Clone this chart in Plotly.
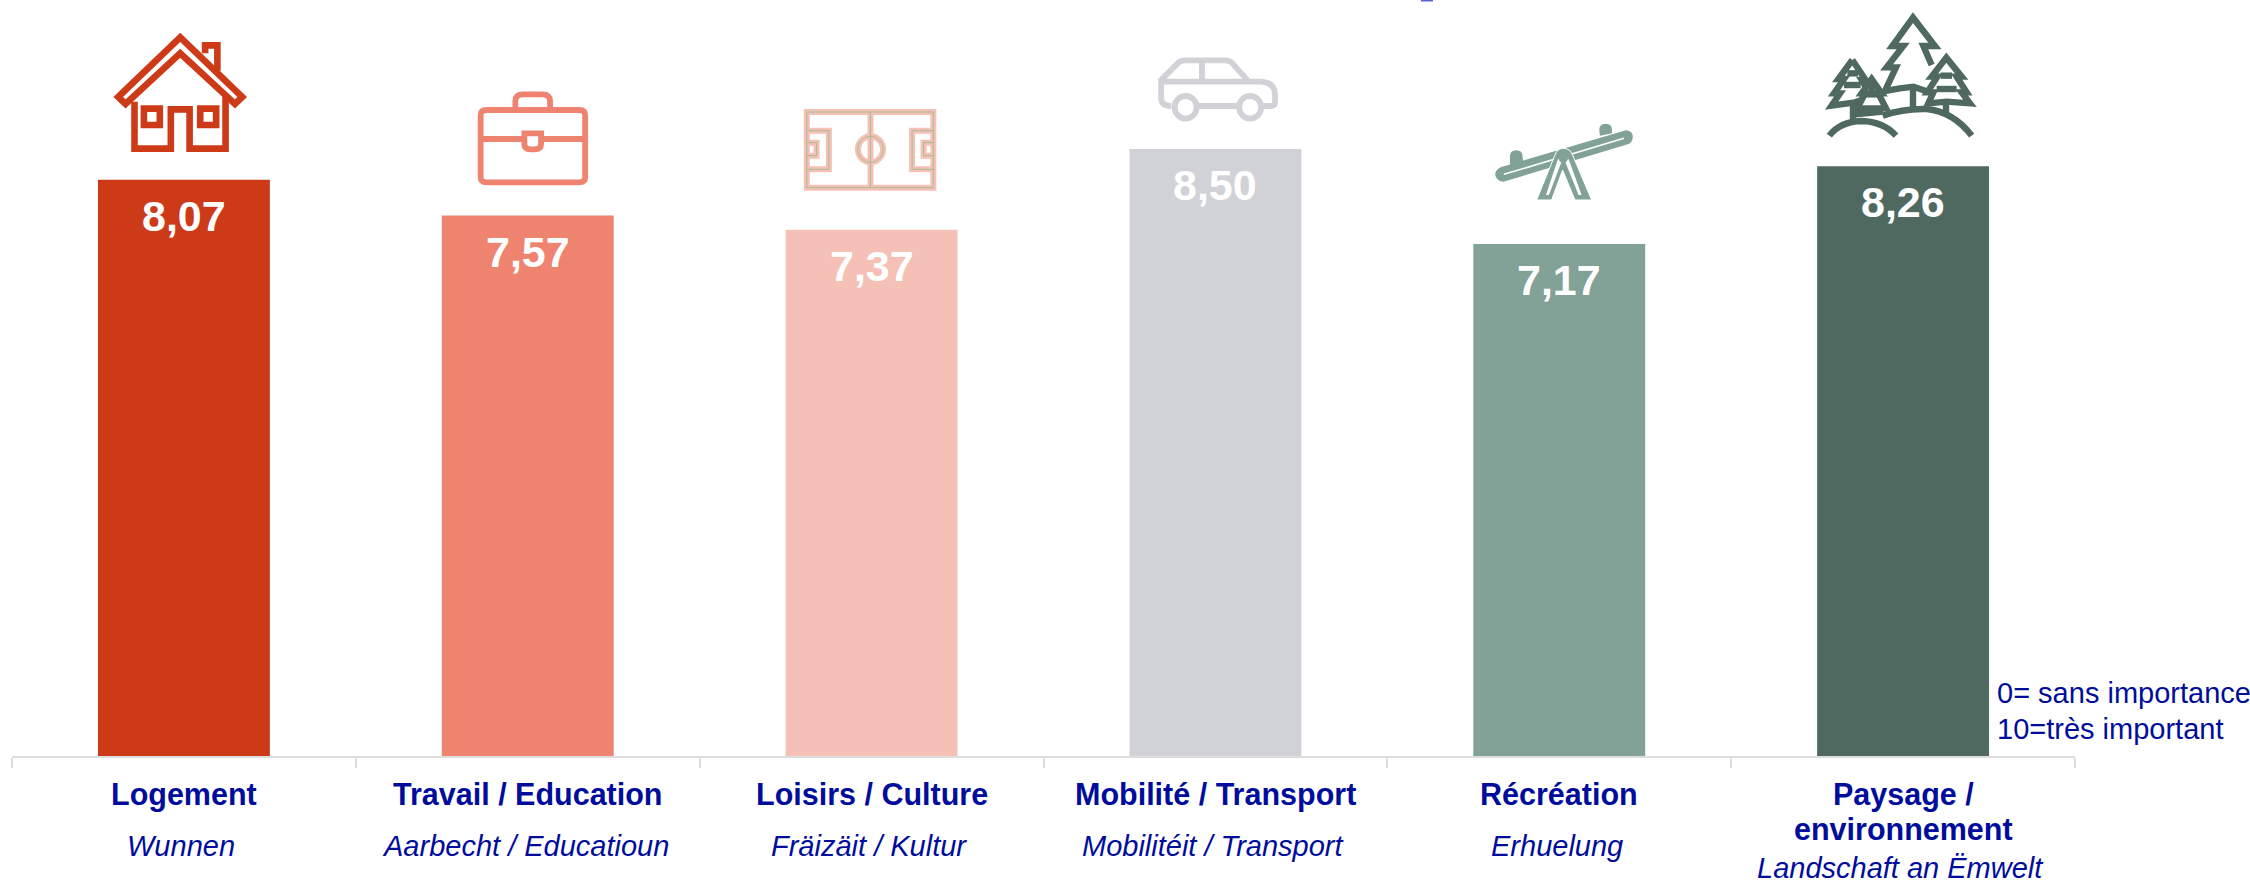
import re
import plotly.graph_objects as go

# ---- data ----
categories_fr = ["Logement", "Travail / Education", "Loisirs / Culture",
                 "Mobilité / Transport", "Récréation", "Paysage /<br>environnement"]
categories_lb = ["Wunnen", "Aarbecht / Educatioun", "Fräizäit / Kultur",
                 "Mobilitéit / Transport", "Erhuelung", "Landschaft an Ëmwelt"]
values = [8.07, 7.57, 7.37, 8.50, 7.17, 8.26]
value_labels = ["8,07", "7,57", "7,37", "8,50", "7,17", "8,26"]
colors = ["#CD3A18", "#EE836F", "#F5C1B7", "#D1D2D8", "#82A298", "#4F6961"]
note_lines = ["0= sans importance", "10=très important"]

NAVY = "#000D9C"
W, H = 2250, 886
L, R, B = 12.2, 2075.0, 756.0
FONT = "Liberation Sans"


def px(x):
    return (x - L) / (R - L)


def py(y):
    return 1 - y / B


def path(d, ox, oy, sx, sy):
    """Icon outline given in crop coordinates -> paper coordinates."""
    nums = iter(range(100000))

    def rep(m):
        v = float(m.group(0))
        if next(nums) % 2 == 0:
            return f"{px(ox + v / sx):.5f}"
        return f"{py(oy + v / sy):.5f}"

    return re.sub(r"-?\d+(\.\d+)?", rep, d)


def shp(d, frame, color=None, width=5.0, fill=None):
    return dict(type="path", path=path(d, *frame), xref="paper", yref="paper",
                line=dict(color=color or "rgba(0,0,0,0)", width=width if color else 0),
                fillcolor=fill or "rgba(0,0,0,0)", layer="above")


def ellipse(cx, cy, rx, ry):
    k = 0.5523
    return (f"M{cx - rx},{cy} C{cx - rx},{cy - k * ry} {cx - k * rx},{cy - ry} {cx},{cy - ry} "
            f"C{cx + k * rx},{cy - ry} {cx + rx},{cy - k * ry} {cx + rx},{cy} "
            f"C{cx + rx},{cy + k * ry} {cx + k * rx},{cy + ry} {cx},{cy + ry} "
            f"C{cx - k * rx},{cy + ry} {cx - rx},{cy + k * ry} {cx - rx},{cy} Z")


shapes = []
# house
f = (60, 0, 2.45, 3)
c = colors[0]
for d in ["M143,291 L295,112 L447,291 L429,312 L295,160 L161,312 Z",
          "M356,160 L356,136 L386,136 L386,212",
          "M183,305 L183,446 L272,446 L272,328 L318,328 L318,446 L406,446 L406,290",
          "M206,326 L245,326 L245,375 L206,375 Z",
          "M344,326 L383,326 L383,375 L344,375 Z"]:
    shapes.append(shp(d, f, c, 6.6))
# briefcase
c = colors[1]
for d in ["M1046,330 L1272,330 Q1287,330 1287,345 L1287,532 Q1287,547 1272,547 L1046,547 Q1031,547 1031,532 L1031,345 Q1031,330 1046,330 Z",
          "M1116,324 L1116,303 Q1116,283 1135,283 L1182,283 Q1201,283 1201,303 L1201,324",
          "M1031,417 L1138,417", "M1179,417 L1287,417",
          "M1138,400 L1179,400 L1179,432 Q1179,448 1163,448 L1154,448 Q1138,448 1138,432 Z"]:
    shapes.append(shp(d, f, c, 5.8))
# football pitch
f = (700, 0, 2.45, 3)
c = colors[2]
pitch = ["M262,336 L572,336 L572,563 L262,563 Z", "M418,336 L418,563",
         "M262,392 L316,392 L316,508 L262,508", "M262,428 L286,428 L286,467 L262,467",
         "M572,392 L520,392 L520,508 L572,508", "M572,428 L548,428 L548,467 L572,467",
         ellipse(418, 448, 31, 39)]
for d in pitch:
    shapes.append(shp(d, f, c, 6.0))
for d in pitch:
    shapes.append(shp(d, f, "#A8BC95", 1.0))
# car
c = colors[3]
for d in ["M1155,318 Q1130,318 1130,293 L1130,240 L1172,188 Q1178,181 1190,181 L1285,181 Q1297,181 1303,188 L1345,245 L1375,245 Q1409,248 1409,285 L1409,306 Q1409,318 1398,318 L1380,318",
          "M1130,245 L1345,245", "M1230,181 L1230,245", "M1222,318 L1316,318",
          ellipse(1190, 322, 27, 34), ellipse(1348, 322, 27, 34)]:
    shapes.append(shp(d, f, c, 5.8))
# seesaw
f = (1480, 115, 3, 3)
c = colors[4]
shapes.append(shp("M90,150 L90,125 Q90,106 109,106 Q128,106 128,125 L130,142 Z", f, fill=c))
shapes.append(shp("M360,62 L358,45 Q358,26 377,26 Q396,26 396,45 L396,55 Z", f, fill=c))
shapes.append(shp("M65,158 L438,48 Q458,50 456,68 Q455,80 445,85 L70,198 Q50,195 48,178 Q50,163 65,158 Z", f, c, 1.5, fill=c))
shapes.append(shp("M72,178 L432,70", f, "#FFFFFF", 1.6))
shapes.append(shp("M170,255 L225,120 Q232,100 250,100 Q270,100 278,120 L335,255 L285,255 L248,165 L215,255 Z",
                  f, "#FFFFFF", 1.0, fill=c))
shapes.append(shp("M198,240 L233,135 Q250,108 267,135 L305,240 L296,240 L250,126 L207,240 Z", f, fill="#FFFFFF"))
shapes.append(shp(ellipse(250, 130, 14, 14), f, fill=c))
# trees
f = (1820, 5, 3, 3)
c = colors[5]
tree_parts = [
    ("M335,180 L310,123 L345,123 L279,38 L217,123 L250,123 L200,187 L228,187 L195,258 L240,250 L280,245 L318,258", None),
    ("M279,245 L279,310", None),
    ("M97,165 L55,222 L72,222 L42,265 L60,265 L35,302 L105,292 L125,285", None),
    ("M97,165 L137,225 L125,225 L140,250", None),
    ("M82,205 L114,205", None),
    ("M72,240 L122,240", None),
    ("M99,295 L99,345", None),
    ("M105,328 L190,320", None),
    ("M379,158 L335,215 L352,215 L322,262 L340,262 L325,295 L380,290 L450,295 L425,262 L440,262 L410,215 L425,215 Z", "#FFFFFF"),
    ("M362,212 L396,212", None),
    ("M350,252 L410,252", None),
    ("M378,295 L378,325", None),
    ("M155,222 L185,265 L175,265 L198,310 L112,310 L135,265 L125,265 Z", "#FFFFFF"),
    ("M135,268 L175,268", None),
    ("M155,235 L155,262", None),
    ("M155,312 L155,330", None),
    ("M28,392 Q60,350 125,348 Q190,350 228,392", None),
    ("M188,332 Q250,310 320,312 Q400,320 455,392", None),
]
for d, fill in tree_parts:
    shapes.append(shp(d, f, c, 6.4, fill=fill))
# cropped descender of the title at the very top edge
shapes.append(dict(type="rect", xref="paper", yref="paper", x0=px(1421), x1=px(1433),
                   y0=py(0), y1=py(1.5), fillcolor="#5A5FD0", line_width=0, layer="above"))

annotations = []
# values in bars
for i, (v, t) in enumerate(zip(values, value_labels)):
    annotations.append(dict(x=i, y=v, xref="x", yref="y", text=f"<b>{t}</b>", showarrow=False,
                            yanchor="top", xanchor="center", yshift=-10,
                            font=dict(family=FONT, size=43, color="#FFFFFF")))
# two-language category labels
for i, (fr, lb) in enumerate(zip(categories_fr, categories_lb)):
    two_lines = "<br>" in fr
    for j, line in enumerate(fr.split("<br>")):
        annotations.append(dict(x=i, y=py(794 + 35 * j), xref="x", yref="paper",
                                text=f"<b>{line}</b>", showarrow=False, yanchor="middle",
                                font=dict(family=FONT, size=30.5, color=NAVY)))
    annotations.append(dict(x=i - 0.008, y=py(868 if two_lines else 846), xref="x", yref="paper",
                            text=f"<i>{lb}</i>", showarrow=False, yanchor="middle",
                            font=dict(family=FONT, size=29, color=NAVY)))
# scale note
for line, y in zip(note_lines, [693, 729]):
    annotations.append(dict(x=px(1995), y=py(y), xref="paper", yref="paper", text=line,
                            showarrow=False, xanchor="left", yanchor="middle",
                            font=dict(family=FONT, size=29, color=NAVY)))

fig = go.Figure(go.Bar(x=list(range(6)), y=values, width=0.5, marker=dict(color=colors, line_width=0),
                       hoverinfo="skip"))
fig.update_layout(
    width=W, height=H, margin=dict(l=L, r=W - R, t=0, b=H - B, autoexpand=False),
    plot_bgcolor="#FFFFFF", paper_bgcolor="#FFFFFF", showlegend=False,
    shapes=shapes, annotations=annotations,
    xaxis=dict(range=[-0.5, 5.5], tickmode="array", tickvals=[-0.5, 0.5, 1.5, 2.5, 3.5, 4.5, 5.5],
               ticktext=[""] * 7, ticks="outside", ticklen=10, tickwidth=1.5, tickcolor="#DDDDDD",
               showline=True, linecolor="#DDDDDD", linewidth=2, showgrid=False, zeroline=False),
    yaxis=dict(range=[0, B / 71.4], visible=False, fixedrange=True),
)
fig.write_html("out.html", config=dict(displayModeBar=False), post_script="document.body.style.margin='0';")
